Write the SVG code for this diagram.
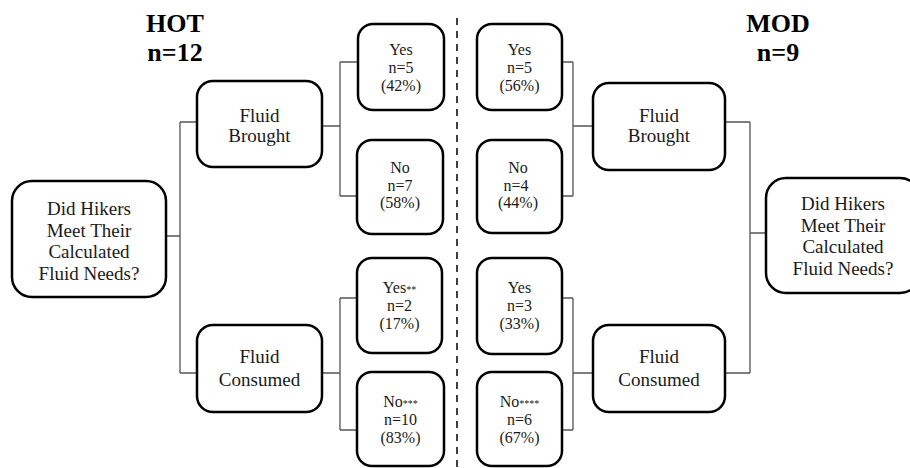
<svg xmlns="http://www.w3.org/2000/svg" width="910" height="468" viewBox="0 0 910 468">
<style>
.box{fill:#fff;stroke:#000;stroke-width:2.5}
.t{font-family:"Liberation Serif","Times New Roman",serif;fill:#1a1a1a;text-anchor:middle}
.big{font-size:19px}
.sm{font-size:16px}
.ast{font-size:10px}
.title{font-family:"Liberation Serif","Times New Roman",serif;font-weight:bold;font-size:26px;fill:#000;text-anchor:middle}
.con{fill:none;stroke:#555;stroke-width:1.3}
</style>
<rect width="910" height="468" fill="#fff"/>
<g id="titles">
<text class="title" x="175" y="32">HOT</text>
<text class="title" x="175" y="61">n=12</text>
<text class="title" x="778" y="32">MOD</text>
<text class="title" x="778" y="61">n=9</text>
</g>
<line id="divider" x1="457" y1="18" x2="457" y2="468" stroke="#000" stroke-width="1.5" stroke-dasharray="7,6"/>
<g id="connectors" class="con">
<path d="M166,236H180M180,122V373M180,122H197M180,373H197"/>
<path d="M322,126H340M340,62V196M340,62H358M340,196H357"/>
<path d="M322,373H340M340,298V430M340,298H357M340,430H357"/>
<path d="M562,62H573M562,196H573M573,62V196M573,126H593"/>
<path d="M562,298H573M562,430H573M573,298V430M573,373H593"/>
<path d="M725,122H750M725,373H750M750,122V373M750,233H766"/>
</g>
<g id="root-hot">
<rect class="box" x="12" y="181" width="154" height="116" rx="20"/>
<text class="t big" x="89" y="215">Did Hikers</text>
<text class="t big" x="89" y="237">Meet Their</text>
<text class="t big" x="89" y="258">Calculated</text>
<text class="t big" x="89" y="280">Fluid Needs?</text>
</g>
<g id="brought-hot">
<rect class="box" x="197" y="81" width="125" height="86" rx="16"/>
<text class="t big" x="259.5" y="122">Fluid</text>
<text class="t big" x="259.5" y="142">Brought</text>
</g>
<g id="consumed-hot">
<rect class="box" x="197" y="325" width="125" height="87" rx="16"/>
<text class="t big" x="259.5" y="363">Fluid</text>
<text class="t big" x="259.5" y="386">Consumed</text>
</g>
<g id="brought-yes-hot">
<rect class="box" x="358" y="24" width="86" height="86" rx="15"/>
<text class="t sm" x="401" y="55">Yes</text>
<text class="t sm" x="401" y="73">n=5</text>
<text class="t sm" x="401" y="91">(42%)</text>
</g>
<g id="brought-no-hot">
<rect class="box" x="357" y="140" width="86" height="94" rx="15"/>
<text class="t sm" x="400" y="173">No</text>
<text class="t sm" x="400" y="191">n=7</text>
<text class="t sm" x="400" y="208">(58%)</text>
</g>
<g id="consumed-yes-hot">
<rect class="box" x="357" y="258" width="85" height="95" rx="15"/>
<text class="t sm" x="399.5" y="293">Yes<tspan class="ast">**</tspan></text>
<text class="t sm" x="399.5" y="311">n=2</text>
<text class="t sm" x="399.5" y="329">(17%)</text>
</g>
<g id="consumed-no-hot">
<rect class="box" x="357" y="372" width="87" height="94" rx="15"/>
<text class="t sm" x="400.5" y="407">No<tspan class="ast">***</tspan></text>
<text class="t sm" x="400.5" y="425">n=10</text>
<text class="t sm" x="400.5" y="443">(83%)</text>
</g>
<g id="brought-yes-mod">
<rect class="box" x="477" y="24" width="85" height="86" rx="15"/>
<text class="t sm" x="519.5" y="55">Yes</text>
<text class="t sm" x="519.5" y="73">n=5</text>
<text class="t sm" x="519.5" y="91">(56%)</text>
</g>
<g id="brought-no-mod">
<rect class="box" x="477" y="140" width="85" height="93" rx="15"/>
<text class="t sm" x="518" y="173">No</text>
<text class="t sm" x="516" y="191">n=4</text>
<text class="t sm" x="518" y="208">(44%)</text>
</g>
<g id="consumed-yes-mod">
<rect class="box" x="477" y="258" width="85" height="96" rx="15"/>
<text class="t sm" x="519.5" y="293">Yes</text>
<text class="t sm" x="519.5" y="311">n=3</text>
<text class="t sm" x="519.5" y="329">(33%)</text>
</g>
<g id="consumed-no-mod">
<rect class="box" x="477" y="372" width="85" height="94" rx="15"/>
<text class="t sm" x="519.5" y="407">No<tspan class="ast">****</tspan></text>
<text class="t sm" x="519.5" y="425">n=6</text>
<text class="t sm" x="519.5" y="443">(67%)</text>
</g>
<g id="brought-mod">
<rect class="box" x="593" y="83" width="132" height="87" rx="16"/>
<text class="t big" x="659" y="122">Fluid</text>
<text class="t big" x="659" y="142">Brought</text>
</g>
<g id="consumed-mod">
<rect class="box" x="593" y="325" width="132" height="87" rx="16"/>
<text class="t big" x="659" y="363">Fluid</text>
<text class="t big" x="659" y="386">Consumed</text>
</g>
<g id="root-mod">
<rect class="box" x="766" y="178" width="154" height="115" rx="20"/>
<text class="t big" x="843" y="210">Did Hikers</text>
<text class="t big" x="843" y="232">Meet Their</text>
<text class="t big" x="843" y="253">Calculated</text>
<text class="t big" x="843" y="275">Fluid Needs?</text>
</g>
</svg>
